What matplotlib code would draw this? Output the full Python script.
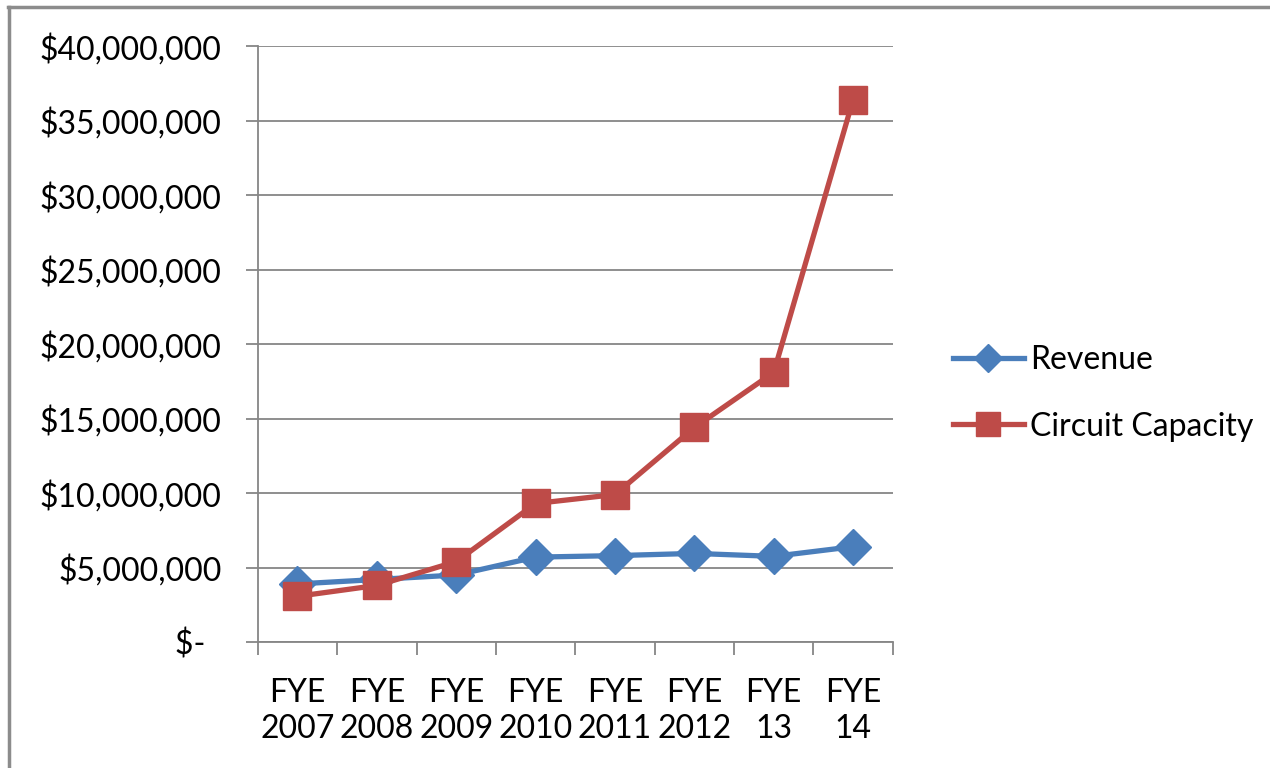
import matplotlib.pyplot as plt
import matplotlib.ticker as ticker
from matplotlib.lines import Line2D

# values (dollars)
years = ['FYE\n2007', 'FYE\n2008', 'FYE\n2009', 'FYE\n2010', 'FYE\n2011', 'FYE\n2012', 'FYE\n13', 'FYE\n14']
revenue = [3.9e6, 4.2e6, 4.5e6, 5.7e6, 5.8e6, 5.95e6, 5.75e6, 6.4e6]
capacity = [3.07e6, 3.8e6, 5.4e6, 9.3e6, 9.9e6, 14.4e6, 18.1e6, 36.4e6]

blue = '#4A7EBB'
red = '#BE4B48'
grid = '#868686'

plt.rcParams['font.family'] = ['Lato', 'DejaVu Sans']

fig = plt.figure(figsize=(12.7, 7.68), dpi=100)
ax = fig.add_axes([0.203, 0.164, 0.500, 0.776])

x = list(range(len(years)))
ax.plot(x, revenue, color=blue, lw=3.8, marker='D', ms=18, mec=blue, mfc=blue, zorder=3)
ax.plot(x, capacity, color=red, lw=3.8, marker='s', ms=20, mec=red, mfc=red, zorder=4)

ax.set_xlim(-0.5, len(years) - 0.5)
ax.set_ylim(0, 40e6)

ax.yaxis.set_major_locator(ticker.MultipleLocator(5e6))
ax.yaxis.set_major_formatter(ticker.FuncFormatter(
    lambda v, p: '$-  ' if v == 0 else '${:,.0f}'.format(v)))
ax.grid(axis='y', color=grid, lw=1.3)
ax.set_axisbelow(True)

# category ticks sit on the boundaries, labels in the middle
ax.set_xticks([i - 0.5 for i in range(len(years) + 1)])
ax.set_xticklabels([])
ax.set_xticks(x, minor=True)
ax.set_xticklabels(years, minor=True, fontsize=23, linespacing=1.25)
ax.tick_params(axis='x', which='minor', length=0, pad=26)
ax.tick_params(axis='x', which='major', length=9, width=1.3, color=grid, direction='out')
ax.tick_params(axis='y', length=9, width=1.3, color=grid, labelsize=23, pad=17)

for s in ['top', 'right']:
    ax.spines[s].set_visible(False)
for s in ['left', 'bottom']:
    ax.spines[s].set_color(grid)
    ax.spines[s].set_linewidth(1.3)

handles = [Line2D([], [], color=blue, lw=3.8, marker='D', ms=14),
           Line2D([], [], color=red, lw=3.8, marker='s', ms=17)]
fig.legend(handles, ['Revenue', 'Circuit Capacity'], loc='center left',
           bbox_to_anchor=(0.728, 0.488), frameon=False, fontsize=23,
           handlelength=2.2, handletextpad=0.2, labelspacing=1.15)

# chart area border (top and left visible in the reference)
fig.add_artist(Line2D([0.006, 1.0], [0.991, 0.991], color='#8c8c8c', lw=2.5))
fig.add_artist(Line2D([0.007, 0.007], [0.0, 0.991], color='#8c8c8c', lw=2.5))

fig.savefig('out.png', dpi=100)
